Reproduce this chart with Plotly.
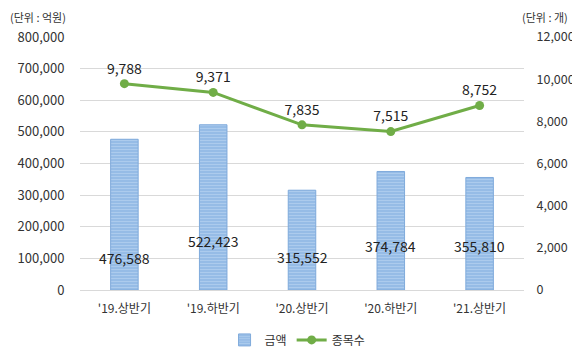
import plotly.graph_objects as go

categories = ["'19.상반기", "'19.하반기", "'20.상반기", "'20.하반기", "'21.상반기"]
amounts = [476588, 522423, 315552, 374784, 355810]
counts = [9788, 9371, 7835, 7515, 8752]
amount_label_y = [101000, 155000, 104000, 139000, 139000]

FONT = "Noto Sans CJK KR, Malgun Gothic, sans-serif"

fig = go.Figure()
fig.add_trace(go.Bar(
    x=categories, y=amounts, name="금액",
    marker=dict(color="#93BAE6", line=dict(color="#7FAADB", width=1),
                pattern=dict(shape="-", fgcolor="#C6DCF3", size=3, solidity=0.4)),
    width=0.31, yaxis="y",
))
fig.add_trace(go.Scatter(
    x=categories, y=counts, name="종목수", yaxis="y2",
    mode="lines+markers+text",
    line=dict(color="#70AD47", width=3),
    marker=dict(color="#70AD47", size=9),
    text=[f"{v:,}" for v in counts], textposition="top center",
    textfont=dict(size=14, color="#222222", family=FONT),
))

for c, v, ly in zip(categories, amounts, amount_label_y):
    fig.add_annotation(x=c, y=ly, xref="x", yref="y", text=f"{v:,}",
                       showarrow=False, font=dict(size=14, color="#222222", family=FONT))

fig.add_annotation(x=0, y=1, xref="paper", yref="paper", xanchor="left", yanchor="top",
                   text="(단위 : 억원)", showarrow=False, xshift=-72, yshift=30,
                   font=dict(size=11, color="#333333", family=FONT))
fig.add_annotation(x=1, y=1, xref="paper", yref="paper", xanchor="right", yanchor="top",
                   text="(단위 : 개)", showarrow=False, xshift=46, yshift=30,
                   font=dict(size=11, color="#333333", family=FONT))

fig.update_layout(
    width=572, height=352,
    margin=dict(l=72, r=56, t=29, b=70, autoexpand=False),
    paper_bgcolor="white", plot_bgcolor="white",
    font=dict(family=FONT, size=12, color="#333333"),
    bargap=0.69,
    showlegend=True,
    legend=dict(orientation="h", x=0.49, xanchor="center", y=-0.14, yanchor="top",
                font=dict(size=12, family=FONT), itemwidth=30),
    xaxis=dict(showgrid=False, showline=True, linecolor="#D9D9D9", ticks="outside",
               ticklen=8, tickcolor="white", tickfont=dict(size=12, family=FONT)),
    yaxis=dict(range=[0, 800000], dtick=100000, tickformat=",", showgrid=True,
               gridcolor="#D9D9D9", zeroline=False, ticks="outside", ticklen=12,
               tickcolor="white", tickfont=dict(size=13, family=FONT)),
    yaxis2=dict(range=[0, 12000], dtick=2000, tickformat=",", overlaying="y",
                side="right", showgrid=False, zeroline=False, ticks="outside",
                ticklen=9, tickcolor="white", tickfont=dict(size=12.5, family=FONT)),
)

fig.write_html("out.html")
